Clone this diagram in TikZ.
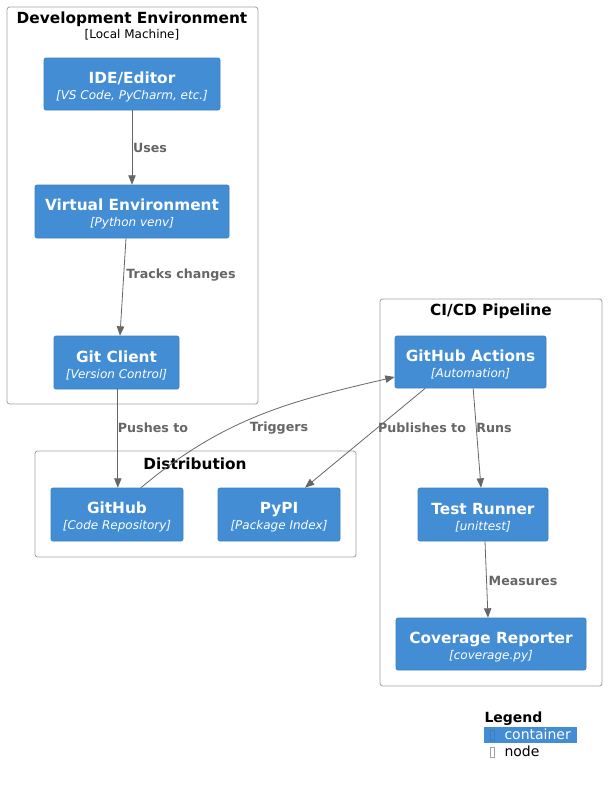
\documentclass[tikz,border=0pt]{standalone}
\usepackage{fontspec}
\setmainfont{DejaVu Sans}
\usetikzlibrary{arrows.meta}

\definecolor{contfill}{HTML}{438DD5}
\definecolor{contline}{HTML}{3C7FC0}
\definecolor{relgrey}{HTML}{666666}
\definecolor{bndgrey}{HTML}{A2A2A2}

\tikzset{every picture/.style={line width=0.75pt}}
\tikzset{
  cont/.style={draw=contline, fill=contfill, text=white, rounded corners=1.5pt, line width=0.5pt,
    align=center, inner sep=0pt, font=\fontsize{9}{12}\selectfont},
  bnd/.style={draw=bndgrey, rounded corners=2pt, line width=0.6pt, inner sep=0pt},
  bndtitle/.style={font=\fontsize{11.5}{14}\selectfont\bfseries},
  bndsub/.style={font=\fontsize{9}{11}\selectfont},
  rel/.style={draw=relgrey, line width=0.6pt, -{Triangle[length=7pt,width=5.5pt]}},
  rellabel/.style={text=relgrey, font=\fontsize{9.5}{11}\selectfont\bfseries},
}
\newcommand{\ctitle}[1]{{\fontsize{11.5}{12}\selectfont\bfseries\rule{0pt}{12.5pt}#1}}
\newcommand{\ctech}[1]{{\itshape #1}}

\begin{document}
\begin{tikzpicture}[x=0.75pt,y=0.75pt,yscale=-1,xscale=1]
\useasboundingbox (0,0) rectangle (607,785);

%Boundary: Development Environment
\node[bnd, minimum width=188.25pt, minimum height=297.75pt] (dev) at (132.5,205.5) {};
\node[bndtitle] (devtitle) at (132,19) {Development Environment};
\node[bndsub] (devsub) at (132,35) {[Local Machine]};

%Boundary: Distribution
\node[bnd, minimum width=240.75pt, minimum height=79.5pt] (dist) at (195.5,504) {};
\node[bndtitle] (disttitle) at (195,464) {Distribution};

%Boundary: CI/CD Pipeline
\node[bnd, minimum width=166.5pt, minimum height=290.25pt] (cicd) at (491,492.5) {};
\node[bndtitle] (cicdtitle) at (491,311) {CI/CD Pipeline};

%Containers
\node[cont, minimum width=132pt, minimum height=39pt] (ide) at (132,84) {\ctitle{IDE/Editor}\\\ctech{[VS Code, PyCharm, etc.]}};
\node[cont, minimum width=145.5pt, minimum height=39.75pt] (venv) at (132,211.5) {\ctitle{Virtual Environment}\\\ctech{[Python venv]}};
\node[cont, minimum width=93.75pt, minimum height=39.75pt] (git) at (116.5,362.5) {\ctitle{Git Client}\\\ctech{[Version Control]}};
\node[cont, minimum width=99pt, minimum height=39.75pt] (github) at (117,514.5) {\ctitle{GitHub}\\\ctech{[Code Repository]}};
\node[cont, minimum width=91.5pt, minimum height=39.75pt] (pypi) at (279,514.5) {\ctitle{PyPI}\\\ctech{[Package Index]}};
\node[cont, minimum width=113.25pt, minimum height=39pt] (actions) at (470.5,362) {\ctitle{GitHub Actions}\\\ctech{[Automation]}};
\node[cont, minimum width=97.5pt, minimum height=39.75pt] (tests) at (483,514.5) {\ctitle{Test Runner}\\\ctech{[unittest]}};
\node[cont, minimum width=142.5pt, minimum height=39pt] (coverage) at (491,644) {\ctitle{Coverage Reporter}\\\ctech{[coverage.py]}};

%Relations
\draw[rel] (ide.south) -- (venv.north);
\draw[rel] ([xshift=-4.5pt]venv.south) -- ([xshift=2.6pt]git.north);
\draw[rel] ([xshift=1pt]git.south) -- ([xshift=1pt]git.south |- github.north);
\draw[rel] ([xshift=18pt]github.north) to[out=-40,in=167] ([yshift=11.25pt]actions.west);
\draw[rel] ([xshift=-34pt]actions.south) -- ([xshift=19.5pt]pypi.north);
\draw[rel] ([xshift=2pt]actions.south) -- ([xshift=-1.5pt]tests.north);
\draw[rel] ([xshift=1.5pt]tests.south) -- ([xshift=-2.25pt]coverage.north);

% Text Node
\node[rellabel] (uses) at (150,148) {Uses};
% Text Node
\node[rellabel] (tracks) at (181,275) {Tracks changes};
% Text Node
\node[rellabel] (pushes) at (153,428) {Pushes to};
% Text Node
\node[rellabel] (triggers) at (279,428) {Triggers};
% Text Node
\node[rellabel] (publishes) at (422,428) {Publishes to};
% Text Node
\node[rellabel] (runs) at (494,428) {Runs};
% Text Node
\node[rellabel] (measures) at (523,581) {Measures};

%Legend
\node[font=\fontsize{10.5}{12}\selectfont\bfseries, anchor=west, inner sep=0pt] (legend) at (484,719) {Legend};
\node[fill=contfill, minimum width=69.75pt, minimum height=12pt, inner sep=0pt] (legcont) at (530.5,735) {};
\node[draw=contline, line width=0.4pt, minimum width=3pt, minimum height=7.5pt, inner sep=0pt] (legconticon) at (492,735) {};
\node[text=white, font=\fontsize{10.5}{12}\selectfont, anchor=west, inner sep=0pt] (legconttext) at (504,734) {container};
\node[draw=bndgrey, fill=white, line width=0.4pt, minimum width=3pt, minimum height=7.5pt, inner sep=0pt] (legnodeicon) at (492,752) {};
\node[font=\fontsize{10.5}{12}\selectfont, anchor=west, inner sep=0pt] (legnodetext) at (504,751) {node};

\end{tikzpicture}
\end{document}
